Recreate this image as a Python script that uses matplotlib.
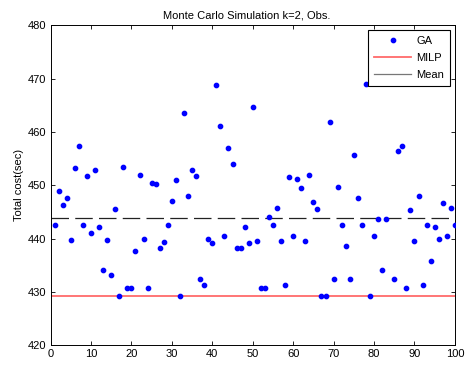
import matplotlib
matplotlib.use("Agg")
import matplotlib.pyplot as plt
import numpy as np

plt.rcParams['font.family'] = ['Liberation Sans', 'DejaVu Sans']

runs = list(range(1, 101))
ga_cost = [
    442.6, 449.0, 446.3, 447.6, 439.8, 453.3, 457.3, 442.6, 451.8, 441.0,
    452.8, 442.1, 434.2, 439.8, 433.1, 445.6, 429.25, 453.4, 430.8, 430.8,
    437.7, 452.0, 439.9, 430.8, 450.4, 450.2, 438.3, 439.3, 442.6, 447.1,
    450.9, 429.25, 463.6, 448.0, 452.9, 451.8, 432.4, 431.3, 439.9, 439.1,
    468.8, 461.1, 440.5, 456.9, 453.9, 438.3, 438.3, 442.1, 439.1, 464.6,
    439.6, 430.8, 430.8, 444.1, 442.6, 445.7, 439.6, 431.3, 451.6, 440.5,
    451.1, 449.4, 439.6, 452.0, 446.9, 445.5, 429.25, 429.25, 461.9, 432.4,
    449.7, 442.6, 438.6, 432.4, 455.7, 447.6, 442.6, 469.0, 429.25, 440.5,
    443.6, 434.1, 443.6, 474.0, 432.4, 456.4, 457.3, 430.8, 445.4, 439.6,
    448.0, 431.3, 442.6, 435.8, 442.1, 439.9, 446.6, 440.5, 445.8, 442.6,
]
milp_cost = 429.25
mean_cost = 443.9

title = "Monte Carlo Simulation k=2, Obs."
ylabel = "Total cost(sec)"
xticks = list(range(0, 101, 10))
yticks = list(range(420, 481, 10))

fig = plt.figure(figsize=(4.68, 3.66), dpi=100)
ax = fig.add_axes([0.108, 0.0566, 0.864, 0.8743])

ax.plot(runs, ga_cost, linestyle='none', marker='o', markersize=3.1,
        markerfacecolor='#0000ff', markeredgecolor='#0000ff', label='GA', zorder=3)
ax.axhline(milp_cost, color='#ff6a6a', linewidth=1.3, label='MILP', zorder=2)
mean_line = ax.axhline(mean_cost, color='#222222', linewidth=0.9, label='Mean', zorder=2)
mean_line.set_dashes((14, 5))

ax.set_xlim(0, 100)
ax.set_ylim(420, 480)
ax.set_xticks(xticks)
ax.set_yticks(yticks)
ax.tick_params(direction='in', length=3, width=0.6, labelsize=8, top=True, right=True, pad=3)
for s in ax.spines.values():
    s.set_linewidth(0.7)
ax.set_title(title, fontsize=8, pad=5, x=0.485)
ax.set_ylabel(ylabel, fontsize=8, labelpad=3)

leg = ax.legend(loc='upper right', fontsize=8, frameon=True, fancybox=False,
                edgecolor='black', framealpha=1, borderaxespad=0.4,
                handlelength=3.4, handletextpad=0.45, labelspacing=0.62,
                borderpad=0.55, markerscale=1.0)
leg.get_frame().set_linewidth(0.8)
leg.set_zorder(10)
for h in leg.get_lines():
    if h.get_label() == 'Mean':
        h.set_linestyle('-')
        h.set_color('#777777')

fig.savefig("out.png", dpi=100)
